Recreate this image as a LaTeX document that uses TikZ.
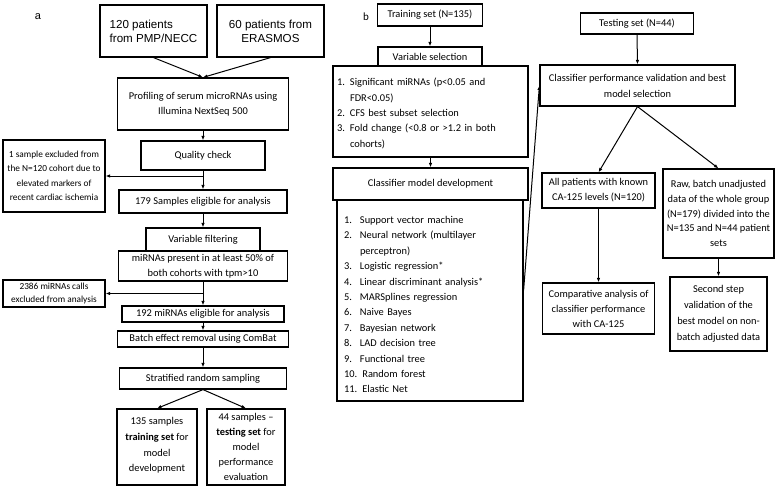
\documentclass[tikz,border=0pt]{standalone}
\usepackage{fontspec}
\setmainfont{Carlito}
\newfontfamily\arialf{Liberation Sans}
\usetikzlibrary{arrows.meta,calc}
\newcommand\numlab[2]{\makebox[#1][l]{#2}}
\tikzset{
  box/.style={draw, line width=1.2pt, inner sep=0pt, align=center, font=\fontsize{10.4}{15}\selectfont},
  smallbox/.style={box, font=\fontsize{9.3}{14.5}\selectfont},
  listbox/.style={draw, line width=1.2pt, inner ysep=0pt, align=left, font=\fontsize{10.4}{15.4}\selectfont},
  arr/.style={draw, line width=1pt, -{Latex[length=4.5pt,width=3.5pt]}},
  lbl/.style={inner sep=0pt, font=\arialf\fontsize{11}{13}\selectfont}
}
\begin{document}
\begin{tikzpicture}[x=1pt,y=-1pt]
\fill[white] (0,0) rectangle (776,492);
\useasboundingbox (0,0) rectangle (776,492);

% panel labels
\node[lbl] (la) at (38,17) {a};
\node[inner sep=0pt, font=\fontsize{11}{13}\selectfont] (lb) at (366,17) {b};

% ---------- panel a ----------
\node[box, align=left, minimum width=107, minimum height=52, font=\arialf\fontsize{11.6}{14}\selectfont] (L1) at (153.5,31) {120 patients\\from PMP/NECC};
\node[box, minimum width=107, minimum height=52, font=\arialf\fontsize{11.6}{14}\selectfont] (L2) at (270.5,31) {60 patients from\\ERASMOS};
\node[box, minimum width=171, minimum height=52] (prof) at (203,104) {Profiling of serum microRNAs using\\Illumina NextSeq 500};
\node[box, minimum width=124, minimum height=29] (qc) at (203,155.5) {Quality check};
\node[smallbox, minimum width=102, minimum height=72] (ex1) at (54,176) {1 sample excluded from\\the N=120 cohort due to\\elevated markers of\\recent cardiac ischemia};
\node[box, minimum width=168, minimum height=23] (s179) at (203,201.5) {179 Samples eligible for analysis};
\node[box, minimum width=114, minimum height=23] (vf) at (203,239.5) {Variable filtering};
\node[box, minimum width=169, minimum height=30] (mir) at (203,266) {miRNAs present in at least 50\% of\\both cohorts with tpm>10};
\node[smallbox, minimum width=102, minimum height=27, font=\fontsize{9.3}{13.5}\selectfont] (ex2) at (54,293.5) {2386 miRNAs calls\\excluded from analysis};
\node[box, minimum width=162, minimum height=16] (s192) at (203,314) {192 miRNAs eligible for analysis};
\node[box, minimum width=171, minimum height=16] (batch) at (203,339) {Batch effect removal using ComBat};
\node[box, minimum width=167, minimum height=21] (strat) at (203,378.5) {Stratified random sampling};
\node[box, minimum width=80, minimum height=76, font=\fontsize{10.4}{15.8}\selectfont] (train) at (157,447) {135 samples\\\textbf{training set} for\\model\\development\rule[-5pt]{0pt}{5pt}};
\node[box, minimum width=78, minimum height=76, font=\fontsize{10.4}{14.8}\selectfont] (test) at (246,447) {44 samples –\\\textbf{testing set} for\\model\\performance\\evaluation};

\draw[arr] (L1.south) -- (prof.north);
\draw[arr] (L2.south) -- (prof.north);
\draw[arr] (prof.south) -- (qc.north);
\draw[arr] (qc.south) -- (s179.north);
\draw[arr] (qc.south |- ex1.east) -- (ex1.east);
\draw[arr] (s179.south) -- (vf.north);
\draw[arr] (mir.south) -- (s192.north);
\draw[arr] (mir.south |- ex2.east) -- (ex2.east);
\draw[arr] (s192.south) -- (batch.north);
\draw[arr] (batch.south) -- (strat.north);
\draw[arr] (strat.south) -- (train.north);
\draw[arr] (strat.south) -- (test.north);

% ---------- panel b ----------
\node[box, minimum width=105, minimum height=22] (trainb) at (430,15) {Training set (N=135)};
\node[box, minimum width=104, minimum height=19] (varsel) at (430,56.5) {Variable selection};
\node[listbox, inner xsep=4pt, text width=187pt, minimum height=91] (varlist) at (430.5,111.5)
  {\rule{0pt}{11.5pt}\numlab{13pt}{1.}Significant miRNAs (p<0.05 and\\
   \hspace*{13pt}FDR<0.05)\\
   \numlab{13pt}{2.}CFS best subset selection\\
   \numlab{13pt}{3.}Fold change (<0.8 or >1.2 in both\\
   \hspace*{13pt}cohorts)};
\node[box, minimum width=195, minimum height=32] (cmd) at (430.5,184) {Classifier model development};
\node[listbox, inner xsep=7pt, text width=172pt, minimum height=201] (cmlist) at (430,300.5)
  {\rule{0pt}{15.5pt}\numlab{16pt}{1.}Support vector machine\\
   \numlab{16pt}{2.}Neural network (multilayer\\
   \hspace*{16pt}perceptron)\\
   \numlab{16pt}{3.}Logistic regression*\\
   \numlab{16pt}{4.}Linear discriminant analysis*\\
   \numlab{16pt}{5.}MARSplines regression\\
   \numlab{16pt}{6.}Naive Bayes\\
   \numlab{16pt}{7.}Bayesian network\\
   \numlab{16pt}{8.}LAD decision tree\\
   \numlab{16pt}{9.}Functional tree\\
   10. Random forest\\
   11. Elastic Net};

\draw[arr] (trainb.south) -- (varsel.north);
\draw[arr] (varlist.south) -- (cmd.north);

% ---------- right part ----------
\node[box, minimum width=113, minimum height=21] (testing) at (637,23.5) {Testing set (N=44)};
\node[box, minimum width=195, minimum height=41, font=\fontsize{10.4}{16}\selectfont] (cpv) at (637.5,85.5) {Classifier performance validation and best\\model selection};
\node[box, minimum width=113, minimum height=35] (allpat) at (598.5,190.5) {All patients with known\\CA-125 levels (N=120)};
\node[box, minimum width=111, minimum height=89, font=\fontsize{10.4}{14.8}\selectfont] (raw) at (718.5,213.5) {Raw, batch unadjusted\\data of the whole group\\(N=179) divided into the\\N=135 and N=44 patient\\sets};
\node[box, minimum width=112, minimum height=51] (comp) at (598.5,308.5) {Comparative analysis of\\classifier performance\\with CA-125};
\node[box, minimum width=97, minimum height=74, font=\fontsize{10.4}{16}\selectfont] (second) at (718.5,314) {Second step\\validation of the\\best model on non-\\batch adjusted data};

\draw[arr] ($(cmlist.north east)!0.45!(cmlist.south east)$) -- (cpv.west);
\draw[arr] (testing.south) -- (cpv.north);
\draw[arr] (cpv.south) -- (allpat.north);
\draw[arr] (cpv.south) -- (raw.north);
\draw[arr] (allpat.south) -- (comp.north);
\draw[arr] (raw.south) -- (second.north);
\end{tikzpicture}
\end{document}
